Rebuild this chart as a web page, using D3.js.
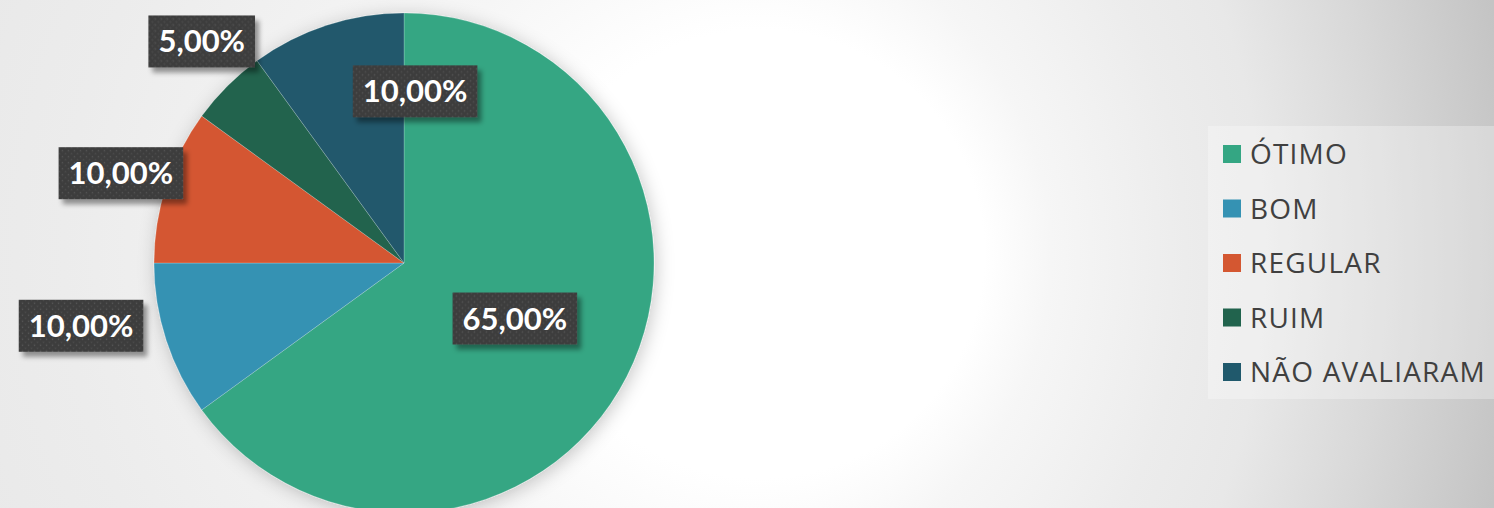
<!DOCTYPE html>
<html>
<head>
<meta charset="utf-8">
<script src="https://cdn.jsdelivr.net/npm/d3@7"></script>
<style>
  html, body { margin: 0; padding: 0; overflow: hidden; }
  svg { display: block; }
</style>
</head>
<body>
<svg id="chart" width="1494" height="508"></svg>
<script>
// Evaluation results
const categories = ["ÓTIMO", "BOM", "REGULAR", "RUIM", "NÃO AVALIARAM"];
const shares = [65, 10, 10, 5, 10];
const labelTexts = ["65,00%", "10,00%", "10,00%", "5,00%", "10,00%"];
const sliceColors = ["#34a683", "#3592b3", "#d45731", "#21634d", "#20596c"];

// Layout
const W = 1494, H = 508;
const cx = 404, cy = 263, R = 250;
// label anchor: distance from centre and angle (deg, clockwise from 12 o'clock)
const labelPlace = [
  { r: 124, a: 116.6 },
  { r: 329, a: 259.0 },
  { r: 297, a: 287.6 },
  { r: 300, a: 317.6 },
  { r: 172, a: 3.7 }
];

const svg = d3.select("#chart");
const defs = svg.append("defs");

// Background: soft radial fade from white to grey
const bg = defs.append("radialGradient")
  .attr("id", "bgGrad")
  .attr("gradientUnits", "userSpaceOnUse")
  .attr("cx", 400).attr("cy", 254).attr("r", 1120)
  .attr("fx", 850).attr("fy", 254);
[[0, "#ffffff"], [0.2, "#ffffff"], [0.3, "#f6f6f6"], [0.5, "#ececec"],
 [0.62, "#e8e8e8"], [0.8, "#d8d8d8"], [1, "#c4c4c4"]]
  .forEach(([o, c]) => bg.append("stop").attr("offset", o).attr("stop-color", c));

svg.append("rect").attr("width", W).attr("height", H).attr("fill", "url(#bgGrad)");

// Pie shadow
const pieShadow = defs.append("filter").attr("id", "pieShadow")
  .attr("x", "-20%").attr("y", "-20%").attr("width", "140%").attr("height", "140%");
pieShadow.append("feDropShadow")
  .attr("dx", 2).attr("dy", 3).attr("stdDeviation", 9)
  .attr("flood-color", "#000").attr("flood-opacity", 0.22);

// Label box shadow
const boxShadow = defs.append("filter").attr("id", "boxShadow")
  .attr("x", "-20%").attr("y", "-30%").attr("width", "150%").attr("height", "170%");
boxShadow.append("feDropShadow")
  .attr("dx", 4).attr("dy", 5).attr("stdDeviation", 2.5)
  .attr("flood-color", "#000").attr("flood-opacity", 0.4);

// Dotted texture for label boxes
const dots = defs.append("pattern").attr("id", "dots")
  .attr("patternUnits", "userSpaceOnUse").attr("width", 6).attr("height", 6);
dots.append("rect").attr("width", 6).attr("height", 6).attr("fill", "#3e3e3e");
dots.append("circle").attr("cx", 1.5).attr("cy", 1.5).attr("r", 0.75).attr("fill", "#575757");
dots.append("circle").attr("cx", 4.5).attr("cy", 4.5).attr("r", 0.75).attr("fill", "#4d4d4d");

const pie = d3.pie().sort(null).value(d => d);
const arcs = pie(shares);
const arc = d3.arc().innerRadius(0).outerRadius(R);
const color = d3.scaleOrdinal().domain(categories).range(sliceColors);

const pieG = svg.append("g").attr("transform", `translate(${cx},${cy})`);
pieG.append("g").attr("filter", "url(#pieShadow)")
  .selectAll("path")
  .data(arcs)
  .join("path")
  .attr("d", arc)
  .attr("fill", (d, i) => color(categories[i]))
  .attr("stroke", "rgba(255,255,255,0.35)")
  .attr("stroke-width", 0.6);

// Data labels
const labelG = pieG.append("g");
arcs.forEach((d, i) => {
  const p = labelPlace[i];
  const ang = p.a * Math.PI / 180;
  const x = p.r * Math.sin(ang);
  const y = -p.r * Math.cos(ang);
  const g = labelG.append("g").attr("transform", `translate(${x},${y})`);
  const box = g.append("rect").attr("fill", "url(#dots)").attr("filter", "url(#boxShadow)");
  const t = g.append("text")
    .attr("text-anchor", "middle")
    .attr("y", 11)
    .attr("fill", "#ffffff")
    .style("font-family", "Lato, 'Open Sans', sans-serif")
    .style("font-weight", 700)
    .style("font-size", "31px")
    .text(labelTexts[i]);
  const bw = t.node().getComputedTextLength() + 20;
  box.attr("x", -bw / 2).attr("y", -26).attr("width", bw).attr("height", 52);
});

// Legend
const legX = 1208, legY = 126;
svg.append("rect")
  .attr("x", legX).attr("y", legY).attr("width", W - legX).attr("height", 273)
  .attr("fill", "#ffffff").attr("fill-opacity", 0.3);

const legend = svg.append("g");
const rowY = d3.scalePoint().domain(categories).range([154, 372]);
const rows = legend.selectAll("g")
  .data(categories)
  .join("g")
  .attr("transform", d => `translate(1223,${rowY(d)})`);
rows.append("rect")
  .attr("x", 0).attr("y", -9).attr("width", 18).attr("height", 18)
  .attr("fill", d => color(d));
rows.append("text")
  .attr("x", 27).attr("y", 10)
  .attr("fill", "#404040")
  .style("font-family", "'Open Sans', sans-serif")
  .style("font-size", "28px")
  .style("letter-spacing", "1.2px")
  .text(d => d);
</script>
</body>
</html>
